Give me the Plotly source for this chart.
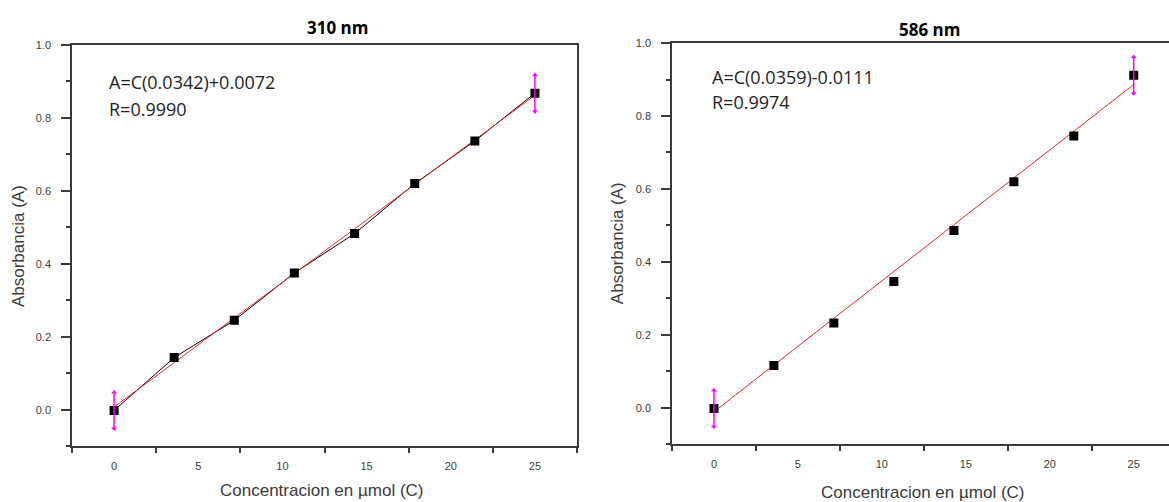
import plotly.graph_objects as go

# concentration (umol) shared by both wavelengths
conc = [0, 3.57, 7.14, 10.71, 14.29, 17.86, 21.43, 25]

abs_310 = [-0.002, 0.143, 0.245, 0.375, 0.483, 0.620, 0.737, 0.868]
abs_586 = [-0.002, 0.116, 0.232, 0.346, 0.486, 0.620, 0.745, 0.912]

# linear fit parameters A = C*slope + intercept
fit_310 = (0.0342, 0.0072)
fit_586 = (0.0359, -0.0111)
r_310 = 0.9990
r_586 = 0.9974

err = 0.05  # magenta arrows on first/last point

x_labels = [0, 5, 10, 15, 20, 25]
y_labels = [0.0, 0.2, 0.4, 0.6, 0.8, 1.0]

W, H = 1169, 502
AXIS_COLOR = "#3a3a3a"
TICK_FONT = dict(family="Liberation Sans, Arial", size=11, color="#3c3c3c")
TITLE_FONT = dict(family="Liberation Sans, Arial", size=17, color="#3a3a3a")
EQ_FONT = dict(family="Open Sans, Noto Sans", size=18, color="#1e1e1e")

fig = go.Figure()


def add_panel(n, y, fit, line_points):
    xa = "x" if n == 1 else "x2"
    ya = "y" if n == 1 else "y2"
    slope, icpt = fit
    fit_x = [conc[0], conc[-1]]
    fit_y = [slope * c + icpt for c in fit_x]
    if line_points:
        fig.add_trace(go.Scatter(x=conc, y=y, mode="lines", xaxis=xa, yaxis=ya,
                                 line=dict(color="black", width=1), showlegend=False))
    fig.add_trace(go.Scatter(x=fit_x, y=fit_y, mode="lines", xaxis=xa, yaxis=ya,
                             line=dict(color="#ff2020", width=1), showlegend=False))
    fig.add_trace(go.Scatter(x=conc, y=y, mode="markers", xaxis=xa, yaxis=ya,
                             marker=dict(symbol="square", size=9, color="black"),
                             showlegend=False))
    # magenta double arrows on the end points
    ends_x = [conc[0], conc[-1]]
    ends_y = [y[0], y[-1]]
    fig.add_trace(go.Scatter(x=ends_x, y=ends_y, mode="markers", xaxis=xa, yaxis=ya,
                             marker=dict(size=1, color="rgba(0,0,0,0)"),
                             error_y=dict(type="constant", value=err, color="#ff00ff",
                                          thickness=1.5, width=0),
                             showlegend=False))
    fig.add_trace(go.Scatter(x=ends_x, y=[v + err for v in ends_y], mode="markers",
                             xaxis=xa, yaxis=ya, showlegend=False,
                             marker=dict(symbol="triangle-up", size=5, color="#ff00ff")))
    fig.add_trace(go.Scatter(x=ends_x, y=[v - err for v in ends_y], mode="markers",
                             xaxis=xa, yaxis=ya, showlegend=False,
                             marker=dict(symbol="triangle-down", size=5, color="#ff00ff")))


add_panel(1, abs_310, fit_310, True)
add_panel(2, abs_586, fit_586, False)

# x axis: labels at 0..25 without ticks, small ticks only at the half steps
xaxis_common = dict(
    tickvals=x_labels, ticks="", ticklabelstandoff=9,
    minor=dict(tick0=2.5, dtick=5, ticks="outside", ticklen=5, tickcolor=AXIS_COLOR,
               tickwidth=1.5),
    showline=True, linecolor=AXIS_COLOR, linewidth=1.5, mirror=True,
    showgrid=False, zeroline=False, tickfont=TICK_FONT,
)
yaxis_common = dict(
    range=[-0.1, 1.0], tickvals=y_labels, tickformat=".1f", ticks="outside", ticklen=9,
    tickcolor=AXIS_COLOR, tickwidth=1.5, ticklabelstandoff=8,
    minor=dict(dtick=0.1, tick0=0, ticks="outside", ticklen=4, tickcolor=AXIS_COLOR,
               tickwidth=1.5),
    showline=True, linecolor=AXIS_COLOR, linewidth=1.5,
    showgrid=False, zeroline=False, tickfont=TICK_FONT,
)


def dom_x(a, b):
    return [a / W, b / W]


def dom_y(top, bottom):
    return [1 - bottom / H, 1 - top / H]


fig.update_layout(
    width=W, height=H,
    margin=dict(l=0, r=0, t=0, b=0),
    paper_bgcolor="white", plot_bgcolor="white",
    xaxis=dict(xaxis_common, domain=dom_x(72, 577), range=[-2.5, 27.5], anchor="y"),
    yaxis=dict(yaxis_common, domain=dom_y(39.5, 445.5), mirror=True, anchor="x"),
    xaxis2=dict(xaxis_common, domain=dom_x(672, 1169), range=[-2.5, 27.1], anchor="y2"),
    yaxis2=dict(yaxis_common, domain=dom_y(37.5, 443.5), mirror=False, anchor="x2"),
)

annotations = [
    # panel titles
    dict(x=337, y=22, text="<b>310 nm</b>", font=dict(family="Open Sans, Noto Sans", size=17, color="black")),
    dict(x=929, y=24, text="<b>586 nm</b>", font=dict(family="Open Sans, Noto Sans", size=17, color="black")),
    # axis titles
    dict(x=322, y=490, text="Concentracion en \u00b5mol (C)", font=TITLE_FONT),
    dict(x=923, y=492, text="Concentracion en \u00b5mol (C)", font=TITLE_FONT),
    dict(x=18, y=243, text="Absorbancia (A)", font=TITLE_FONT, textangle=-90),
    dict(x=617, y=240, text="Absorbancia (A)", font=TITLE_FONT, textangle=-90),
    # fit equations
    dict(x=107, y=77, text=f"A=C({fit_310[0]:.4f})+{fit_310[1]:.4f}", font=EQ_FONT, xanchor="left"),
    dict(x=107, y=104, text=f"R={r_310:.4f}", font=EQ_FONT, xanchor="left"),
    dict(x=710, y=72, text=f"A=C({fit_586[0]:.4f})-{abs(fit_586[1]):.4f}", font=EQ_FONT, xanchor="left"),
    dict(x=710, y=97, text=f"R={r_586:.4f}", font=EQ_FONT, xanchor="left"),
]
for a in annotations:
    px_x, px_y = a.pop("x"), a.pop("y")
    a.setdefault("xanchor", "center")
    fig.add_annotation(x=px_x / W, y=1 - px_y / H, xref="paper", yref="paper",
                       yanchor="middle", showarrow=False, **a)

# page margin off so the figure sits at the window's corner
fig.write_html("out.html", config={"displayModeBar": False},
               post_script="document.body.style.margin='0';")
